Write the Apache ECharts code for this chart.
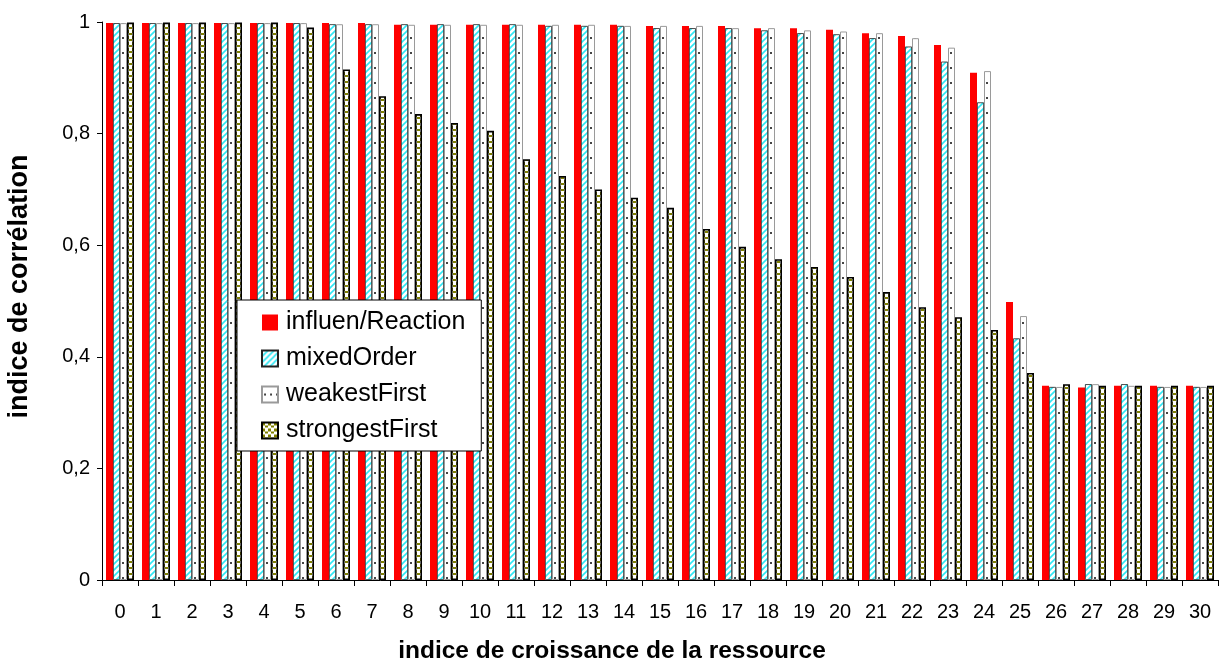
<!DOCTYPE html>
<html>
<head>
<meta charset="utf-8">
<script src="https://cdn.jsdelivr.net/npm/echarts@6/dist/echarts.min.js"></script>
<style>
html,body{margin:0;padding:0;background:#fff;}
#c{width:1224px;height:668px;}
</style>
</head>
<body>
<div id="c"></div>
<script>
var categories = ['0','1','2','3','4','5','6','7','8','9','10','11','12','13','14','15','16','17','18','19','20','21','22','23','24','25','26','27','28','29','30'];
var seriesNames = ['influen/Reaction','mixedOrder','weakestFirst','strongestFirst'];
var influenReaction = [0.998,0.998,0.998,0.998,0.998,0.998,0.998,0.998,0.995,0.995,0.995,0.995,0.995,0.995,0.995,0.993,0.993,0.993,0.989,0.989,0.986,0.980,0.975,0.959,0.909,0.498,0.348,0.345,0.348,0.348,0.348];
var mixedOrder = [0.998,0.998,0.998,0.998,0.998,0.998,0.996,0.996,0.996,0.996,0.996,0.996,0.993,0.993,0.993,0.989,0.989,0.989,0.985,0.980,0.978,0.971,0.956,0.929,0.856,0.433,0.346,0.351,0.351,0.346,0.346];
var weakestFirst = [0.998,0.998,0.998,0.998,0.998,0.998,0.996,0.996,0.995,0.995,0.995,0.995,0.995,0.995,0.993,0.993,0.993,0.989,0.989,0.985,0.983,0.980,0.971,0.954,0.912,0.473,0.346,0.351,0.348,0.346,0.346];
var strongestFirst = [0.999,0.999,0.999,0.999,0.999,0.990,0.915,0.867,0.835,0.819,0.805,0.754,0.724,0.700,0.685,0.667,0.629,0.597,0.575,0.561,0.543,0.516,0.489,0.471,0.448,0.371,0.351,0.348,0.348,0.348,0.348];

function makeCanvas(w, h, draw) {
  var c = document.createElement('canvas');
  c.width = w; c.height = h;
  var ctx = c.getContext('2d');
  ctx.fillStyle = '#ffffff';
  ctx.fillRect(0, 0, w, h);
  draw(ctx);
  return c;
}
var stripeCanvas = makeCanvas(6, 6, function (ctx) {
  ctx.strokeStyle = '#2ee8f6';
  ctx.lineWidth = 1.6;
  ctx.beginPath();
  ctx.moveTo(-3, 3); ctx.lineTo(3, -3);
  ctx.moveTo(0, 6); ctx.lineTo(6, 0);
  ctx.moveTo(3, 9); ctx.lineTo(9, 3);
  ctx.stroke();
});
var dotCanvas = makeCanvas(6, 15, function (ctx) {
  ctx.fillStyle = '#444444';
  ctx.fillRect(2, 7, 2, 2);
});
var confettiCanvas = makeCanvas(6, 6, function (ctx) {
  ctx.fillStyle = '#808000';
  ctx.fillRect(0, 0, 3, 3);
  ctx.fillRect(3, 3, 3, 2);
});

var styles = [
  {color: '#ff0000', borderWidth: 0},
  {color: {image: stripeCanvas, repeat: 'repeat'}, borderColor: '#222', borderWidth: 0.8},
  {color: {image: dotCanvas, repeat: 'repeat'}, borderColor: '#9a9a9a', borderWidth: 1},
  {color: {image: confettiCanvas, repeat: 'repeat'}, borderColor: '#000', borderWidth: 1.6}
];
var seriesData = [influenReaction, mixedOrder, weakestFirst, strongestFirst];

var series = seriesNames.map(function (n, i) {
  return {
    name: n,
    type: 'bar',
    data: seriesData[i],
    barWidth: 7,
    barGap: '0%',
    itemStyle: styles[i],
    emphasis: {disabled: true},
    animation: false
  };
});

var chart = echarts.init(document.getElementById('c'), null, {renderer: 'canvas'});
chart.setOption({
  animation: false,
  backgroundColor: '#fff',
  textStyle: {fontFamily: 'Liberation Sans, Arial, sans-serif'},
  grid: {left: 102, right: 6, top: 22, bottom: 88, containLabel: false, outerBoundsMode: 'none'},
  legend: {
    orient: 'vertical',
    left: 237,
    top: 300,
    data: seriesNames,
    backgroundColor: '#fff',
    borderColor: '#000',
    borderWidth: 1,
    padding: [10, 16, 8, 24],
    itemWidth: 16,
    itemHeight: 16,
    itemGap: 11,
    icon: 'rect',
    textStyle: {fontSize: 25, color: '#000', fontFamily: 'Liberation Sans, Arial, sans-serif', padding: [0, 0, 0, 3]}
  },
  xAxis: {
    type: 'category',
    data: categories,
    boundaryGap: true,
    name: 'indice de croissance de la ressource',
    nameLocation: 'middle',
    nameGap: 59,
    nameTextStyle: {fontSize: 24.5, fontWeight: 'bold', color: '#000', padding: [0, 96, 0, 0]},
    axisLine: {lineStyle: {color: '#000', width: 1}},
    axisTick: {show: true, length: 6, alignWithLabel: false, lineStyle: {color: '#000'}},
    axisLabel: {fontSize: 20, color: '#000', margin: 22, interval: 0},
    splitLine: {show: false}
  },
  yAxis: {
    type: 'value',
    min: 0,
    max: 1,
    interval: 0.2,
    name: 'indice de corrélation',
    nameLocation: 'middle',
    nameGap: 69,
    nameRotate: 90,
    nameTextStyle: {fontSize: 27, fontWeight: 'bold', color: '#000', padding: [0, 0, 0, 29]},
    axisLine: {show: true, lineStyle: {color: '#000', width: 1}},
    axisTick: {show: true, length: 5, lineStyle: {color: '#000'}},
    axisLabel: {fontSize: 20, color: '#000', margin: 12, formatter: function (v) {
      return String(Math.round(v * 10) / 10).replace('.', ',');
    }},
    splitLine: {show: false}
  },
  series: series
});
</script>
</body>
</html>
